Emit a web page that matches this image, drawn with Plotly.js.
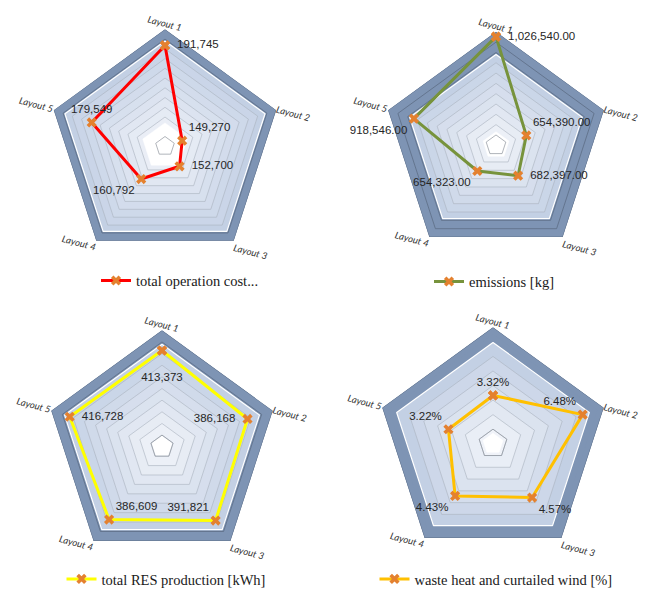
<!DOCTYPE html>
<html><head><meta charset="utf-8">
<script src="https://cdn.plot.ly/plotly-3.0.1.min.js"></script>
<style>html,body{margin:0;padding:0;background:#fff}#chart{width:653px;height:595px}
#chart path.js-line{stroke-linejoin:round}</style>
</head><body><div id="chart"></div>
<script>
// ---- data ----
const layouts = ['Layout 1', 'Layout 2', 'Layout 3', 'Layout 4', 'Layout 5'];
const costValues = [191745, 149270, 152700, 160792, 179549];
const emissionValues = [1026540.00, 654390.00, 682397.00, 654323.00, 918546.00];
const resValues = [413373, 386168, 391821, 386609, 416728];
const wasteValues = [0.0332, 0.0648, 0.0457, 0.0443, 0.0322];
const seriesNames = ['total operation cost...', 'emissions [kg]', 'total RES production [kWh]', 'waste heat and curtailed wind [%]'];

// ---- panel styling ----
const panels = [
  {id:'polar', values:costValues, range:[140000,200000], steps:12, darkInner:0.90, white:0.2,
   cx:165, cy:147, R:117.5, color:'#FF0000', fmt:'%{r:,}',
   pos:['middle right','top right','middle right','bottom left','top center'],
   leg:{x:180, y:282}},
  {id:'polar2', values:emissionValues, range:[500000,1050000], steps:11, darkInner:0.80, white:0.12,
   cx:496, cy:146, R:114, color:'#77933C', fmt:'%{r:,.2f}',
   pos:['middle right','top right','middle right','bottom left','bottom left'],
   leg:{x:494, y:283}},
  {id:'polar3', values:resValues, range:[0,500000], steps:10, darkInner:0.88, white:0.09,
   cx:162, cy:449, R:117, color:'#FFFF00', fmt:'%{r:,}',
   pos:['bottom center','middle left','top left','top right','middle right'],
   leg:{x:166, y:582}},
  {id:'polar4', values:wasteValues, range:[0,0.08], steps:8, darkInner:0.87, white:0.09,
   cx:493, cy:446, R:117, color:'#FFC000', fmt:'%{r:.2%}',
   pos:['top center','top left','bottom right','bottom left','top left'],
   leg:{x:496, y:582}}
];

const W = 653, H = 595;
const theta = layouts.concat([layouts[0]]);

function mix(a, b, t) {
  const pa = [1,3,5].map(i => parseInt(a.substr(i,2),16));
  const pb = [1,3,5].map(i => parseInt(b.substr(i,2),16));
  return 'rgb(' + pa.map((v,i) => Math.round(v + (pb[i]-v)*t)).join(',') + ')';
}
function pad(fmt, pos) {
  const sp = '\u00a0\u2009';
  if (pos === 'bottom center') return '<br>' + fmt;
  if (pos === 'middle right') return sp + fmt;
  if (pos === 'middle left') return fmt + sp;
  return fmt;
}

const traces = [];
const layout = {
  width: W, height: H, margin:{l:0,r:0,t:0,b:0},
  paper_bgcolor:'#ffffff', showlegend:true
};

panels.forEach((p, i) => {
  const [lo, hi] = p.range;
  const rr = f => Array(6).fill(lo + f*(hi-lo));
  const deco = (f, fill, lineColor, lw, doFill) => traces.push({
    type:'scatterpolar', subplot:p.id, r: rr(f), theta: theta, mode:'lines',
    fill: doFill ? 'toself' : 'none', fillcolor: fill,
    line:{color:lineColor, width:lw}, hoverinfo:'skip', showlegend:false, cliponaxis:false
  });
  // outer dark band (rounded thick border)
  deco(1.0, '#7E94B4', '#7E94B4', 11, true);
  // light region
  deco(p.darkInner, '#C3D0E4', '#FFFFFF', 1.2, true);
  // graded bands
  for (let k = p.steps - 1; k >= 1; k--) {
    const f = k / p.steps;
    if (f >= p.darkInner - 0.001) continue;
    const t = 1 - f / p.darkInner;
    deco(f, mix('#C6D2E6', '#F1F4F9', Math.min(1, t*1.15)), '#A9B1BE', 0.6, true);
  }
  // white centre
  deco(p.white, '#FFFFFF', '#FFFFFF', 0.5, true);
  deco(1 / p.steps, '#FFFFFF', '#8E949C', 0.7, false);
  // dark gridlines inside dark band
  for (let k = 1; k <= p.steps; k++) {
    const f = k / p.steps;
    if (f > p.darkInner + 0.01) deco(f, 'rgba(0,0,0,0)', '#5D6D85', 0.8, false);
  }
  // data series
  const tt = p.pos.map(ps => pad(p.fmt, ps)).concat(['']);
  traces.push({
    type:'scatterpolar', subplot:p.id, name: seriesNames[i],
    r: p.values.concat([p.values[0]]), theta: theta,
    mode:'lines+markers+text',
    line:{color:p.color, width:3},
    marker:{symbol:'x', size:9, color:'#E4812F', line:{width:0}},
    texttemplate: tt, textposition: p.pos.concat([p.pos[0]]),
    textfont:{family:'Liberation Sans', size:11.5, color:'#262626'},
    cliponaxis:false, hoverinfo:'skip',
    legend: i === 0 ? 'legend' : 'legend' + (i+1)
  });
  layout[p.id] = {
    domain:{x:[(p.cx - p.R)/W, (p.cx + p.R)/W], y:[1 - (p.cy + p.R)/H, 1 - (p.cy - p.R)/H]},
    bgcolor:'rgba(0,0,0,0)', gridshape:'linear',
    radialaxis:{range:p.range, visible:false, showgrid:false, showline:false, showticklabels:false, ticks:''},
    angularaxis:{type:'category', categoryorder:'array', categoryarray:layouts,
      rotation:90, direction:'clockwise', showgrid:false, showline:false, ticks:'',
      tickangle:15,
      tickfont:{family:'Lato', size:9.5, color:'#333333', style:'italic'}}
  };
  layout[i === 0 ? 'legend' : 'legend' + (i+1)] = {
    x: p.leg.x / W, y: 1 - p.leg.y / H, xanchor:'center', yanchor:'middle',
    orientation:'h', bgcolor:'rgba(0,0,0,0)',
    font:{family:'Liberation Serif', size:14.5, color:'#1a1a1a'}
  };
});

Plotly.newPlot('chart', traces, layout, {staticPlot:true, displayModeBar:false});
</script>
</body></html>
